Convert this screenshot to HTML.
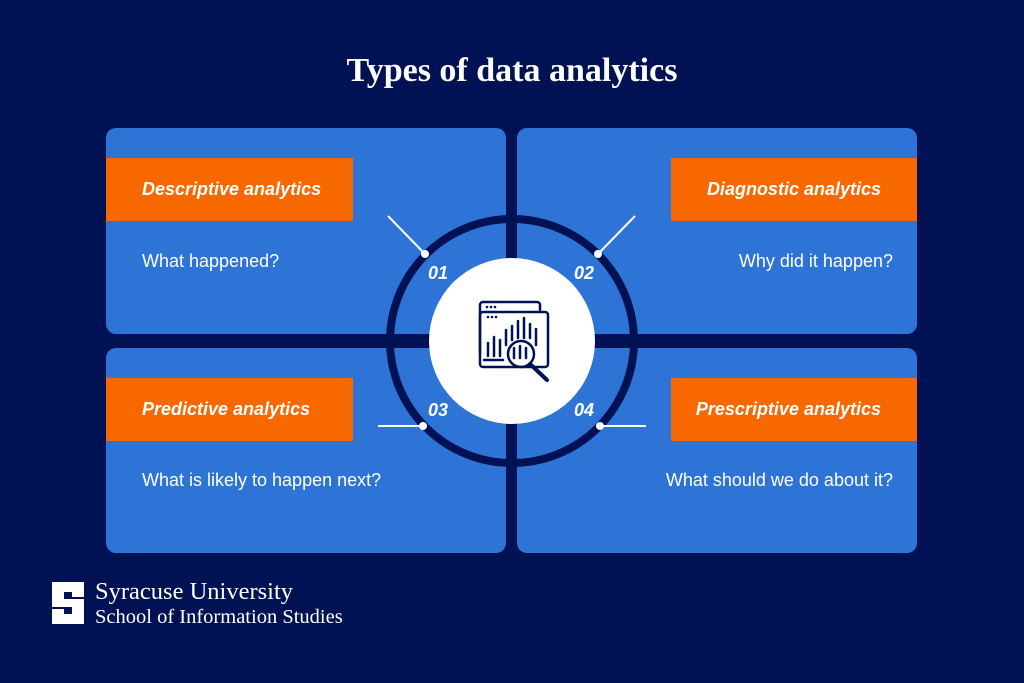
<!DOCTYPE html>
<html><head><style>
body{margin:0;width:1024px;height:683px;background:#001253;overflow:hidden;position:relative;font-family:"Liberation Sans",sans-serif;}
.p{position:absolute;background:#2e74d6;border-radius:10px;}
.o{position:absolute;background:#f76900;color:#fff;font-weight:bold;font-style:italic;font-size:18px;line-height:63px;height:63px;}
.q{position:absolute;color:#fff;font-size:18px;}
.t{position:absolute;left:0;width:1024px;text-align:center;top:52px;color:#fff;font-family:"Liberation Serif",serif;font-weight:bold;font-size:34px;}
</style></head><body>
<div class="t">Types of data analytics</div>
<div class="p" style="left:106px;top:128px;width:400px;height:206px"></div>
<div class="p" style="left:517px;top:128px;width:400px;height:206px"></div>
<div class="p" style="left:106px;top:348px;width:400px;height:205px"></div>
<div class="p" style="left:517px;top:348px;width:400px;height:205px"></div>
<div class="o" style="left:106px;top:158px;width:247px;"><span style="padding-left:36px">Descriptive analytics</span></div>
<div class="o" style="left:671px;top:158px;width:246px;text-align:right;"><span style="padding-right:36px">Diagnostic analytics</span></div>
<div class="o" style="left:106px;top:378px;width:247px;"><span style="padding-left:36px">Predictive analytics</span></div>
<div class="o" style="left:671px;top:378px;width:246px;text-align:right;"><span style="padding-right:36px">Prescriptive analytics</span></div>
<div class="q" style="left:142px;top:251px">What happened?</div>
<div class="q" style="right:131px;top:251px">Why did it happen?</div>
<div class="q" style="left:142px;top:470px">What is likely to happen next?</div>
<div class="q" style="right:131px;top:470px">What should we do about it?</div>
<svg style="position:absolute;left:0;top:0" width="1024" height="683">
<rect x="507" y="128" width="10" height="426" fill="#001253"/>
<rect x="386" y="335" width="252" height="12" fill="#001253"/>
<circle cx="512" cy="341" r="122" fill="none" stroke="#001253" stroke-width="8"/>
<circle cx="512" cy="341" r="83" fill="#fff"/>
<g stroke="#fff" stroke-width="2"><line x1="388" y1="216" x2="425" y2="254"/><line x1="635" y1="216" x2="598" y2="254"/><line x1="378" y1="426" x2="423" y2="426"/><line x1="646" y1="426" x2="600" y2="426"/></g>
<g fill="#fff"><circle cx="425" cy="254" r="4"/><circle cx="598" cy="254" r="4"/><circle cx="423" cy="426" r="4"/><circle cx="600" cy="426" r="4"/></g>
<g fill="#fff" font-family="Liberation Sans" font-weight="bold" font-style="italic" font-size="18" text-anchor="middle"><text x="438" y="279">01</text><text x="584" y="279">02</text><text x="438" y="416">03</text><text x="584" y="416">04</text></g>
<g stroke="#001253" stroke-width="2.5" fill="none" stroke-linecap="round">
<path d="M480 353 V305 a3 3 0 0 1 3 -3 H537 a3 3 0 0 1 3 3 V310"/>
<rect x="480" y="312" width="68" height="55" rx="3"/>
<line x1="488" y1="343" x2="488" y2="356"/><line x1="494" y1="337" x2="494" y2="356"/><line x1="500" y1="340" x2="500" y2="356"/>
<line x1="506" y1="330" x2="506" y2="345"/><line x1="512" y1="326" x2="512" y2="340"/><line x1="518" y1="321" x2="518" y2="338"/><line x1="524" y1="318" x2="524" y2="338"/><line x1="530" y1="324" x2="530" y2="338"/><line x1="536" y1="329" x2="536" y2="345"/>
<line x1="484" y1="360" x2="503" y2="360"/>
<circle cx="521" cy="354" r="13"/><line x1="530" y1="364" x2="547" y2="380" stroke-width="4"/>
<line x1="514" y1="348" x2="514" y2="358"/><line x1="520" y1="346" x2="520" y2="358"/><line x1="526" y1="348" x2="526" y2="358"/>
</g>
<g fill="#001253"><circle cx="487" cy="307" r="1.3"/><circle cx="491" cy="307" r="1.3"/><circle cx="495" cy="307" r="1.3"/><circle cx="488" cy="317" r="1.3"/><circle cx="492" cy="317" r="1.3"/><circle cx="496" cy="317" r="1.3"/></g>
<path d="M52 582 H84 V597 H72 V592 H64 V599 H84 V624 H52 V609 H64 V614 H72 V607 H52 Z" fill="#fff"/>
<g fill="#fff" font-family="Liberation Serif"><text x="95" y="599" font-size="24.5">Syracuse University</text><text x="95" y="623" font-size="20.5">School of Information Studies</text></g>
</svg>
</body></html>
